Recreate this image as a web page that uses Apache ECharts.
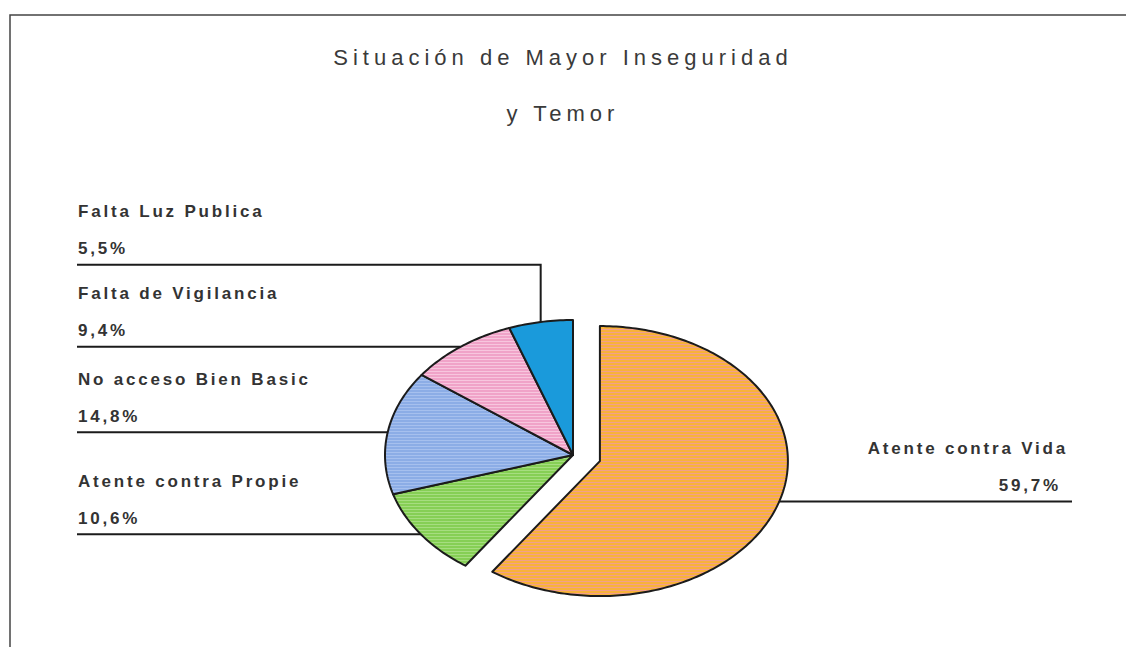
<!DOCTYPE html>
<html>
<head>
<meta charset="utf-8">
<script src="https://cdn.jsdelivr.net/npm/echarts@6/dist/echarts.min.js"></script>
<style>
html,body{margin:0;padding:0;background:#fff;}
#c{width:1126px;height:647px;}
#c svg text{letter-spacing:2.8px;}
</style>
</head>
<body>
<div id="c"></div>
<script>
// ---- data ----
const titleLines = ['Situación de Mayor Inseguridad', 'y Temor'];
const categories = ['Atente contra Vida', 'Atente contra Propie', 'No acceso Bien Basic', 'Falta de Vigilancia', 'Falta Luz Publica'];
const values = [59.7, 10.6, 14.8, 9.4, 5.5];
const valueLabels = ['59,7%', '10,6%', '14,8%', '9,4%', '5,5%'];

// ---- layout / style ----
const L = {cx: 573, cy: 455, rx: 188, ry: 135, explode: 0.15, explodedIndex: 0, gap: 82,
  lineLeftX: 77, lineRightX: 1072, textLeftX: 78, nameRightX: 1068, pctRightX: 1061,
  nameDy: -53, pctDy: -16};
const palette = [
  ['#F8B23A', '#F29F8C'],
  ['#86CF55', '#A6DD80'],
  ['#8CADE6', '#A6C0EE'],
  ['#F0A3C8', '#F7C6DE'],
  ['#1A9ADB', '#1A9ADB']
];
function makePattern(c1, c2) {
  const cv = document.createElement('canvas');
  cv.width = 6; cv.height = 3;
  const ctx = cv.getContext('2d');
  ctx.fillStyle = c1; ctx.fillRect(0, 0, 6, 3);
  ctx.fillStyle = c2; ctx.fillRect(0, 2, 6, 1);
  return {image: cv.toDataURL(), imageWidth: 6, imageHeight: 3, repeat: 'repeat'};
}
const fills = palette.map(p => p[0] === p[1] ? p[0] : makePattern(p[0], p[1]));

// ---- geometry from values ----
const total = values.reduce((a, b) => a + b, 0);
let acc = 0;
const geo = values.map((v, i) => {
  const a0 = acc / total * 2 * Math.PI; acc += v;
  const a1 = acc / total * 2 * Math.PI;
  const am = (a0 + a1) / 2;
  const d = i === L.explodedIndex ? L.explode : 0;
  const ox = L.rx * d * Math.sin(am), oy = -L.ry * d * Math.cos(am);
  return {a0, a1, am, ox, oy, ax: L.cx + ox + L.rx * Math.sin(am), ay: L.cy + oy - L.ry * Math.cos(am)};
});
function layoutSide(idx, side) {
  idx.sort((a, b) => geo[b].ay - geo[a].ay);
  let prev = Infinity;
  idx.forEach(i => { geo[i].ly = Math.min(geo[i].ay, prev - L.gap); prev = geo[i].ly; geo[i].side = side; });
}
const all = values.map((v, i) => i);
layoutSide(all.filter(i => geo[i].ax < L.cx), 'left');
layoutSide(all.filter(i => geo[i].ax >= L.cx), 'right');

const labelFont = 'bold 17px "Liberation Sans", Arial, sans-serif';

function renderItem(params, api) {
  const i = params.dataIndex, g = geo[i];
  const tipX = L.cx + g.ox, tipY = L.cy + g.oy;
  const pts = [[tipX, tipY]];
  const n = Math.max(2, Math.ceil((g.a1 - g.a0) / (Math.PI / 180)));
  for (let k = 0; k <= n; k++) {
    const a = g.a0 + (g.a1 - g.a0) * k / n;
    pts.push([tipX + L.rx * Math.sin(a), tipY - L.ry * Math.cos(a)]);
  }
  const isLeft = g.side === 'left';
  const lineEnd = isLeft ? L.lineLeftX : L.lineRightX;
  return {
    type: 'group',
    children: [
      {type: 'polyline', shape: {points: [[lineEnd, g.ly], [g.ax, g.ly], [g.ax, g.ay]]},
        style: {fill: null, stroke: '#1b1b1b', lineWidth: 2}},
      {type: 'polygon', shape: {points: pts},
        style: {fill: fills[i], stroke: '#1b1b1b', lineWidth: 2, lineJoin: 'round'}},
      {type: 'text', x: isLeft ? L.textLeftX : L.nameRightX, y: g.ly + L.nameDy,
        style: {text: categories[i], align: isLeft ? 'left' : 'right', verticalAlign: 'middle', font: labelFont, fill: '#333333'}},
      {type: 'text', x: isLeft ? L.textLeftX : L.pctRightX, y: g.ly + L.pctDy,
        style: {text: valueLabels[i], align: isLeft ? 'left' : 'right', verticalAlign: 'middle', font: labelFont, fill: '#333333'}}
    ]
  };
}

const chart = echarts.init(document.getElementById('c'), null, {renderer: 'svg'});
chart.setOption({
  animation: false,
  backgroundColor: '#ffffff',
  graphic: [
    {type: 'rect', shape: {x: 10, y: 15, width: 1140, height: 660}, style: {fill: null, stroke: '#444', lineWidth: 1.5}},
    {type: 'text', x: 563, y: 57, style: {text: titleLines[0], align: 'center', verticalAlign: 'middle', font: '22px "Liberation Sans", Arial, sans-serif', fill: '#3a3a3a'}},
    {type: 'text', x: 563, y: 113, style: {text: titleLines[1], align: 'center', verticalAlign: 'middle', font: '22px "Liberation Sans", Arial, sans-serif', fill: '#3a3a3a'}}
  ],
  series: [{
    type: 'custom',
    coordinateSystem: 'none',
    data: values,
    renderItem: renderItem
  }]
});
function spacing() {
  document.querySelectorAll('#c svg text').forEach(t => {
    const fs = parseFloat(getComputedStyle(t).fontSize);
    t.style.letterSpacing = fs >= 20 ? '5px' : '2.8px';
  });
}
chart.on('finished', spacing);
spacing();
</script>
</body>
</html>
